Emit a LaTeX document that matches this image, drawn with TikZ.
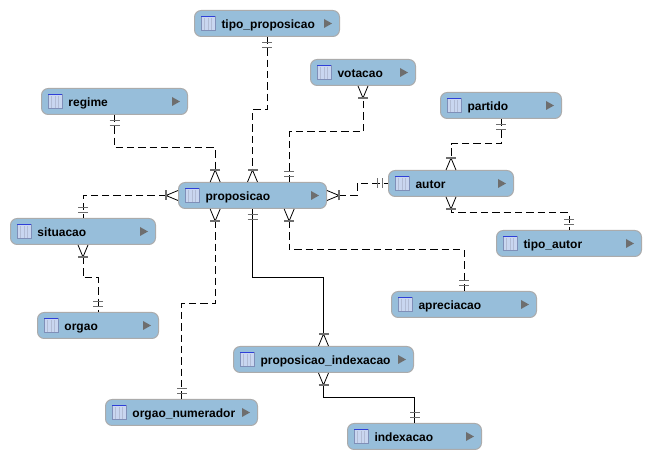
\documentclass[tikz,border=0pt]{standalone}
\usepackage{fontspec}
\setmainfont{Liberation Sans}
\usetikzlibrary{calc,arrows.meta}
\definecolor{boxfill}{HTML}{97BEDA}
\definecolor{boxline}{HTML}{ABABAB}
\definecolor{iconfill}{HTML}{C9D6F0}
\definecolor{iconline}{HTML}{7F8FB8}
\definecolor{icontop}{HTML}{2E3FD8}
\definecolor{tipgray}{HTML}{6E6E6E}

\pgfdeclarearrow{name=many,
	setup code={\pgfarrowssettipend{0pt}\pgfarrowssetlineend{-9pt}\pgfarrowssetbackend{-9pt}},
	drawing code={
		\pgfsetdash{}{0pt}\pgfsetlinewidth{0.6pt}\pgfsetstrokecolor{black}
		\pgfpathmoveto{\pgfqpoint{0pt}{3.75pt}}\pgfpathlineto{\pgfqpoint{-9pt}{0pt}}\pgfpathlineto{\pgfqpoint{0pt}{-3.75pt}}\pgfusepathqstroke
		\pgfsetlinewidth{1.1pt}\pgfsetstrokecolor{tipgray}
		\pgfpathmoveto{\pgfqpoint{-9pt}{3.75pt}}\pgfpathlineto{\pgfqpoint{-9pt}{-3.75pt}}\pgfusepathqstroke}}
\pgfdeclarearrow{name=one,
	setup code={\pgfarrowssettipend{0pt}\pgfarrowssetlineend{0pt}\pgfarrowssetbackend{-8pt}},
	drawing code={
		\pgfsetdash{}{0pt}\pgfsetlinewidth{1.1pt}\pgfsetstrokecolor{tipgray}
		\pgfpathmoveto{\pgfqpoint{-4pt}{3.75pt}}\pgfpathlineto{\pgfqpoint{-4pt}{-3.75pt}}\pgfusepathqstroke
		\pgfpathmoveto{\pgfqpoint{-8pt}{3.75pt}}\pgfpathlineto{\pgfqpoint{-8pt}{-3.75pt}}\pgfusepathqstroke}}

\tikzset{
	tablebox/.style={draw=boxline, fill=boxfill, line width=0.75pt, rounded corners=5pt, anchor=west,
		inner xsep=0pt, inner ysep=0pt, minimum height=19.5pt, align=left,
		font=\fontsize{9}{11}\selectfont\bfseries, text height=8.6pt, text depth=1.6pt},
	rel/.style={line width=0.75pt, dash pattern=on 5.5pt off 3pt},
	relsolid/.style={line width=0.75pt}
}
% name, left edge, middle height, width, text
\def\tablebox(#1)(#2:#3:#4)#5{
	\node[tablebox, text width=#4*0.75pt-0.75pt] (#1) at (#2, #3) {\hspace*{20.25pt}#5};
	\draw[iconline, fill=iconfill, line width=0.5pt] ($(#1.west)+(7,-7)$) rectangle ++(14,14);
	\foreach \i in {3.5,7,10.5} {\draw[iconline!60, line width=0.4pt] ($(#1.west)+(7+\i,-5)$) -- ++(0,12);}
	\draw[icontop, line width=0.9pt] ($(#1.west)+(7,-7)$) -- ++(14,0);
	\fill[tipgray] ($(#1.east)+(-16,-4.5)$) -- ++(8,4.5) -- ++(-8,4.5) -- cycle;
}

\begin{document}
\begin{tikzpicture}[x=0.75pt, y=-0.75pt]
	\useasboundingbox (0, 0) rectangle (651, 459);
	
	%%%%% tables %%%%%
	\tablebox(tipo_proposicao)(194:23.5:146){tipo\_proposicao}
	\tablebox(votacao)(310:72.5:106){votacao}
	\tablebox(regime)(41:101.5:147){regime}
	\tablebox(partido)(440:105.5:122){partido}
	\tablebox(proposicao)(178:195.5:149){proposicao}
	\tablebox(autor)(388:183.5:126){autor}
	\tablebox(situacao)(10:231.5:146){situacao}
	\tablebox(tipo_autor)(496:243.5:146){tipo\_autor}
	\tablebox(apreciacao)(391:304.5:146){apreciacao}
	\tablebox(orgao)(37:325.5:122){orgao}
	\tablebox(proposicao_indexacao)(233:359.5:181){proposicao\_indexacao}
	\tablebox(orgao_numerador)(105:412.5:153){orgao\_numerador}
	\tablebox(indexacao)(347:436.5:135){indexacao}
	
	%%%%% relations %%%%%
	\draw[rel, one-many] (tipo_proposicao.south) -- ++(0, 73) -| (proposicao.north);
	\draw[rel, one-many] (regime.south) -- ++(0, 33) -| ([xshift=-28pt]proposicao.north);
	\draw[rel, one-many] ([xshift=27.5pt]proposicao.north) -- ++(0, -50) -| (votacao.south);
	\draw[rel, many-one] (proposicao.west) -| (situacao.north);
	\draw[rel, many-one] (proposicao.east) -- ++(30, 0) |- (autor.west);
	\draw[rel, one-many] (partido.south) -- ++(0, 25) -| (autor.north);
	\draw[rel, many-one] (autor.south) -- ++(0, 16) -| (tipo_autor.north);
	\draw[rel, many-one] (situacao.south) -- ++(0, 33) -| (orgao.north);
	\draw[rel, many-one] ([xshift=-28pt]proposicao.south) -- ++(0, 95) -| (orgao_numerador.north);
	\draw[rel, many-one] ([xshift=27.5pt]proposicao.south) -- ++(0, 41) -| (apreciacao.north);
	\draw[relsolid, one-many] (proposicao.south) -- ++(0, 69) -| (proposicao_indexacao.north);
	\draw[relsolid, many-one] (proposicao_indexacao.south) -- ++(0, 25) -| (indexacao.north);
\end{tikzpicture}
\end{document}
